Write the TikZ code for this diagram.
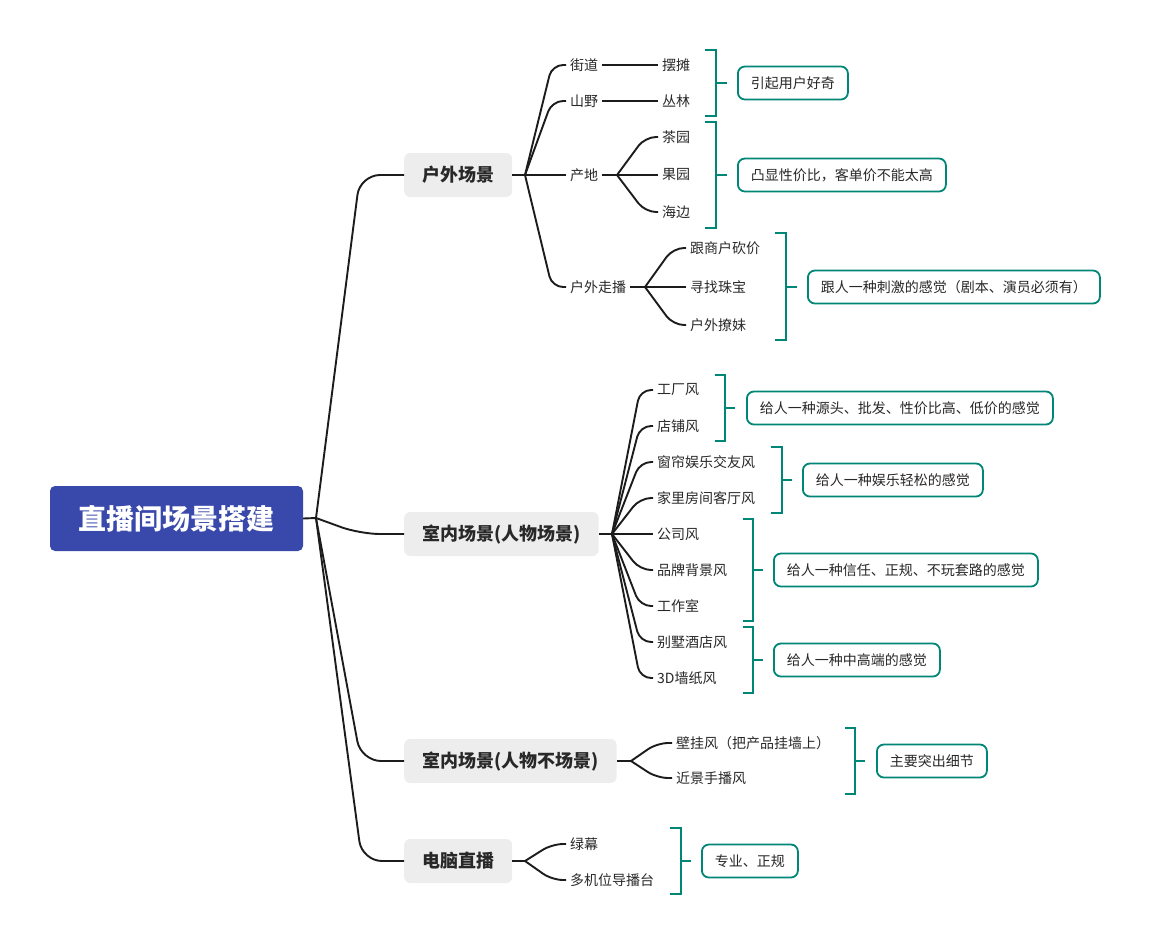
\documentclass[tikz,border=0pt]{standalone}
\usepackage{fontspec}
\setmainfont{Noto Sans CJK SC}
\definecolor{rootblue}{RGB}{57,73,171}
\definecolor{boxgray}{RGB}{237,237,237}
\definecolor{tealc}{RGB}{0,134,118}
\definecolor{linec}{RGB}{28,28,28}
\definecolor{txtc}{RGB}{40,40,40}
\tikzset{
  rootnode/.style={fill=rootblue, rounded corners=5pt, text=white, font=\fontsize{28}{30}\selectfont\bfseries, minimum width=253pt, minimum height=65pt, inner sep=0pt},
  mainnode/.style={fill=boxgray, rounded corners=6pt, text=txtc, font=\fontsize{18}{20}\selectfont\bfseries, minimum height=44pt, inner xsep=18pt, inner ysep=0pt, anchor=west},
  leaf/.style={font=\fontsize{14}{16}\selectfont, text=txtc, inner xsep=4pt, inner ysep=2pt, anchor=west},
  callout/.style={draw=tealc, line width=1.8pt, fill=white, rounded corners=7pt, minimum height=33pt, inner xsep=13pt, inner ysep=0pt, font=\fontsize{14}{16}\selectfont, text=txtc, anchor=west},
  conn/.style={draw=linec, line width=1.9pt},
  bigcurve/.style={conn, rounded corners=20pt},
  smallcurve/.style={conn, rounded corners=11pt},
  brk/.style={draw=tealc, line width=2pt},
}
\begin{document}
\begin{tikzpicture}[x=1pt, y=-1pt]
\useasboundingbox (0,0) rectangle (1150,945);
% root
\node[rootnode] (root) at (176.5,518.5) {直播间场景搭建};
\coordinate (rj) at (316,518);
% main branches
\node[mainnode] (hw) at (404,175) {户外场景};
\node[mainnode] (sn) at (404,534) {室内场景(人物场景)};
\node[mainnode] (sb) at (404,761) {室内场景(人物不场景)};
\node[mainnode] (dn) at (404,861) {电脑直播};
\draw[conn] (root.east) -- (rj);
\draw[bigcurve] (rj) -- (360,175) -- (hw.west);
\draw[bigcurve] (rj) -- (360,534) -- (sn.west);
\draw[bigcurve] (rj) -- (361,761) -- (sb.west);
\draw[bigcurve] (rj) -- (362,861) -- (dn.west);

% ---------- 户外场景 ----------
\coordinate (jh) at (525,175);
\draw[conn] (hw.east) -- (jh);
\node[leaf] (jd) at (566,65) {街道};
\node[leaf] (sy) at (566,101) {山野};
\node[leaf] (cd) at (566,175) {产地};
\node[leaf] (zb) at (566,287) {户外走播};
\draw[smallcurve] (jh) -- (552,65) -- (jd.west);
\draw[smallcurve] (jh) -- (552,101) -- (sy.west);
\draw[conn] (jh) -- (cd.west);
\draw[smallcurve] (jh) -- (552,287) -- (zb.west);
\node[leaf] (bt) at (658,65) {摆摊};
\node[leaf] (cl) at (658,101) {丛林};
\draw[conn] (jd.east) -- (bt.west);
\draw[conn] (sy.east) -- (cl.west);
\coordinate (jc) at (617,175);
\node[leaf] (cy) at (658,137) {茶园};
\node[leaf] (gy) at (658,175) {果园};
\node[leaf] (hb) at (658,212) {海边};
\draw[conn] (cd.east) -- (jc);
\draw[smallcurve] (jc) -- (645,137) -- (cy.west);
\draw[conn] (jc) -- (gy.west);
\draw[smallcurve] (jc) -- (645,212) -- (hb.west);
\coordinate (jz) at (645,287);
\node[leaf] (kj) at (686,248) {跟商户砍价};
\node[leaf] (xz) at (686,287) {寻找珠宝};
\node[leaf] (lm) at (686,325) {户外撩妹};
\draw[conn] (zb.east) -- (jz);
\draw[smallcurve] (jz) -- (673,248) -- (kj.west);
\draw[conn] (jz) -- (xz.west);
\draw[smallcurve] (jz) -- (673,325) -- (lm.west);
% brackets + callouts
\draw[brk] (705,50) -- (716,50) -- (716,116) -- (705,116);
\coordinate (k1) at (716,83);
\draw[brk] (k1) -- ++(11,0);
\node[callout] (c1) at (737,83) {引起用户好奇};
\draw[brk] (705,122) -- (716,122) -- (716,228) -- (705,228);
\coordinate (k2) at (716,175);
\draw[brk] (k2) -- ++(11,0);
\node[callout] (c2) at (737,175) {凸显性价比，客单价不能太高};
\draw[brk] (775,233) -- (786,233) -- (786,340) -- (775,340);
\coordinate (k3) at (786,287);
\draw[brk] (k3) -- ++(11,0);
\node[callout] (c3) at (807,287) {跟人一种刺激的感觉（剧本、演员必须有）};

% ---------- 室内场景(人物场景) ----------
\coordinate (js) at (612,534);
\draw[conn] (sn.east) -- (js);
\foreach \nm/\yy/\tx in {gc/390/工厂风, dp/426/店铺风, cl2/462/窗帘娱乐交友风, jl/498/家里房间客厅风, gs/534/公司风, pp/570/品牌背景风, gz/606/工作室, bs/642/别墅酒店风, qz/678/3D墙纸风}{
  \node[leaf] (\nm) at (653,\yy) {\tx};
  \draw[smallcurve] (js) -- (640,\yy) -- (\nm.west);
}
\draw[brk] (715,375) -- (725,375) -- (725,441) -- (715,441);
\coordinate (k4) at (725,408);
\draw[brk] (k4) -- ++(10,0);
\node[callout] (c4) at (746,408) {给人一种源头、批发、性价比高、低价的感觉};
\draw[brk] (771,447) -- (782,447) -- (782,513) -- (771,513);
\coordinate (k5) at (782,480);
\draw[brk] (k5) -- ++(10,0);
\node[callout] (c5) at (802,480) {给人一种娱乐轻松的感觉};
\draw[brk] (743,519) -- (753,519) -- (753,621) -- (743,621);
\coordinate (k6) at (753,570);
\draw[brk] (k6) -- ++(10,0);
\node[callout] (c6) at (773,570) {给人一种信任、正规、不玩套路的感觉};
\draw[brk] (743,627) -- (753,627) -- (753,693) -- (743,693);
\coordinate (k7) at (753,660);
\draw[brk] (k7) -- ++(10,0);
\node[callout] (c7) at (773,660) {给人一种中高端的感觉};

% ---------- 室内场景(人物不场景) ----------
\coordinate (jb) at (631,761);
\draw[conn] (sb.east) -- (jb);
\node[leaf] (bg) at (672,743) {壁挂风（把产品挂墙上）};
\node[leaf] (jj) at (672,778) {近景手播风};
\draw[smallcurve] (jb) -- (657,743) -- (bg.west);
\draw[smallcurve] (jb) -- (657,778) -- (jj.west);
\draw[brk] (845,728) -- (855,728) -- (855,794) -- (845,794);
\coordinate (k8) at (855,761);
\draw[brk] (k8) -- ++(10,0);
\node[callout] (c8) at (876,761) {主要突出细节};

% ---------- 电脑直播 ----------
\coordinate (jd2) at (525,861);
\draw[conn] (dn.east) -- (jd2);
\node[leaf] (lm2) at (566,844) {绿幕};
\node[leaf] (dj) at (566,880) {多机位导播台};
\draw[smallcurve] (jd2) -- (552,844) -- (lm2.west);
\draw[smallcurve] (jd2) -- (552,880) -- (dj.west);
\draw[brk] (670,828) -- (681,828) -- (681,894) -- (670,894);
\coordinate (k9) at (681,861);
\draw[brk] (k9) -- ++(10,0);
\node[callout] (c9) at (701,861) {专业、正规};
\end{tikzpicture}
\end{document}
